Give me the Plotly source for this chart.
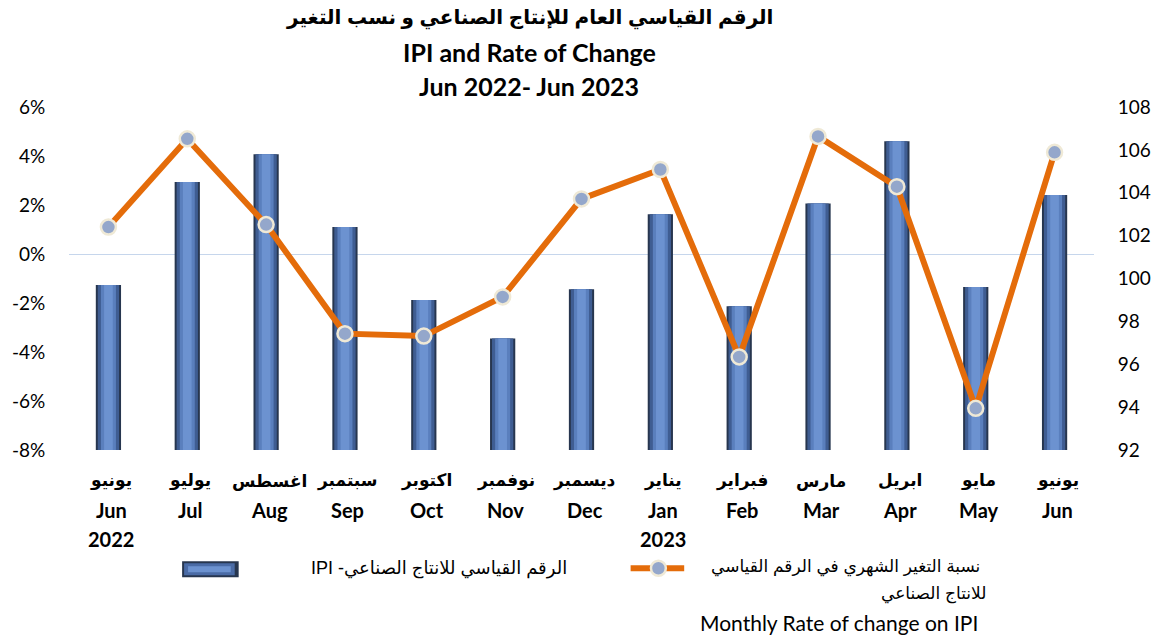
import plotly.graph_objects as go

# ---------------- data ----------------
months_ar = ["يونيو", "يوليو", "اغسطس", "سبتمبر", "اكتوبر", "نوفمبر", "ديسمبر",
             "يناير", "فبراير", "مارس", "ابريل", "مايو", "يونيو"]
months_en = ["Jun", "Jul", "Aug", "Sep", "Oct", "Nov", "Dec",
             "Jan", "Feb", "Mar", "Apr", "May", "Jun"]
years = ["2022", "", "", "", "", "", "", "2023", "", "", "", "", ""]

ipi = [99.7, 104.5, 105.8, 102.4, 99.0, 97.2, 99.5, 103.0, 98.7, 103.5, 106.4, 99.6, 103.9]
rate = [1.1, 4.7, 1.2, -3.25, -3.35, -1.75, 2.25, 3.45, -4.2, 4.8, 2.75, -6.3, 4.15]

left_ticks = [-8, -6, -4, -2, 0, 2, 4, 6]
left_ticktext = [f"{v}%" for v in left_ticks]
right_ticks = [92, 94, 96, 98, 100, 102, 104, 106, 108]

# ---------------- layout helpers ----------------
W, H = 1163, 642
L, R, T, B = 66, 1099, 106.7, 450.5


def px(x):
    return (x - L) / (R - L)


def py(y):
    return (B - y) / (B - T)


xcat = list(range(len(months_en)))

fig = go.Figure()

# bevelled bars: layered widths
bar_layers = [(0.32, "#27364f"), (0.27, "#3f5d92"), (0.19, "#5a7fbd"), (0.11, "#6c92d0")]
for w, c in bar_layers:
    fig.add_trace(go.Bar(
        x=xcat, y=ipi, width=w, marker=dict(color=c, line=dict(width=0)),
        yaxis="y", hoverinfo="skip", showlegend=False))

fig.add_trace(go.Scatter(
    x=xcat, y=rate, yaxis="y2", mode="lines+markers",
    line=dict(color="#e46c0a", width=6),
    marker=dict(size=15, color="#94a7cb", line=dict(color="#efe9d6", width=2.5)),
    showlegend=False))

ENG = "Lato, 'Open Sans', sans-serif"
AR = "Arial, 'DejaVu Sans', sans-serif"

fig.update_layout(
    width=W, height=H,
    margin=dict(l=L, r=W - R, t=T, b=H - B),
    paper_bgcolor="white", plot_bgcolor="white",
    barmode="overlay", showlegend=False,
    font=dict(family=ENG, color="black"),
    xaxis=dict(
        range=[-0.5, len(xcat) - 0.5], showticklabels=False,
        showgrid=False, showline=False, zeroline=False, ticks="",
    ),
    yaxis=dict(
        side="right", range=[92, 108], tickmode="array", tickvals=right_ticks,
        showgrid=False, zeroline=False, showline=False,
        ticks="outside", ticklen=19, tickcolor="rgba(0,0,0,0)",
        tickfont=dict(size=19, family=ENG, color="black"),
    ),
    yaxis2=dict(
        side="left", overlaying="y", range=[-8, 6], tickmode="array",
        tickvals=left_ticks, ticktext=left_ticktext,
        showgrid=False, zeroline=True,
        zerolinecolor="#c6d6ec", zerolinewidth=1.2, showline=False,
        ticks="outside", ticklen=19, tickcolor="rgba(0,0,0,0)",
        tickfont=dict(size=19, family=ENG, color="black"),
    ),
)

# category labels (three lines each)
for i in xcat:
    fig.add_annotation(text=f"<b>{months_ar[i]}</b>", xref="x", yref="paper",
                       x=i, y=py(482), xanchor="center", yanchor="middle",
                       xshift=3, showarrow=False,
                       font=dict(family=AR, size=17, color="black"))
    fig.add_annotation(text=f"<b>{months_en[i]}</b>", xref="x", yref="paper",
                       x=i, y=py(511), xanchor="center", yanchor="middle",
                       xshift=3, showarrow=False,
                       font=dict(family=ENG, size=20, color="black"))
    if years[i]:
        fig.add_annotation(text=f"<b>{years[i]}</b>", xref="x", yref="paper",
                           x=i, y=py(540), xanchor="center", yanchor="middle",
                           xshift=3, showarrow=False,
                           font=dict(family=ENG, size=20, color="black"))

# title
titles = [
    ("<b>الرقم القياسي العام للإنتاج الصناعي و نسب التغير</b>", 17, AR, 20),
    ("<b>IPI and Rate of Change</b>", 52, ENG, 25),
    ("<b>Jun 2022- Jun 2023</b>", 86, ENG, 25),
]
for text, yy, fam, size in titles:
    fig.add_annotation(text=text, xref="paper", yref="paper", x=px(530), y=py(yy),
                       xanchor="center", yanchor="middle", showarrow=False,
                       font=dict(family=fam, size=size, color="black"))

# legend: bars
fig.add_shape(type="rect", xref="paper", yref="paper",
              x0=px(180), x1=px(237), y0=py(578), y1=py(562),
              fillcolor="#27364f", line=dict(width=0))
fig.add_shape(type="rect", xref="paper", yref="paper",
              x0=px(182), x1=px(233), y0=py(576), y1=py(564),
              fillcolor="#4a6ba6", line=dict(width=0))
fig.add_shape(type="rect", xref="paper", yref="paper",
              x0=px(186), x1=px(229), y0=py(573), y1=py(567),
              fillcolor="#6c92d0", line=dict(width=0))
# visual order as in the RTL original: "IPI" at the left end
fig.add_annotation(text="IPI -الرقم القياسي للانتاج الصناعي", xref="paper", yref="paper",
                   x=px(308), y=py(569), xanchor="left", yanchor="middle",
                   showarrow=False, font=dict(family=AR, size=18, color="black"))

# legend: line
fig.add_shape(type="line", xref="paper", yref="paper",
              x0=px(632), x1=px(686), y0=py(569), y1=py(569),
              line=dict(color="#e46c0a", width=6))
fig.add_shape(type="circle", xref="paper", yref="paper",
              x0=px(652.5), x1=px(667.5), y0=py(576.5), y1=py(561.5),
              fillcolor="#94a7cb", line=dict(color="#efe9d6", width=2.5))
fig.add_annotation(text="نسبة التغير الشهري في الرقم القياسي", xref="paper", yref="paper",
                   x=px(986), y=py(568), xanchor="right", yanchor="middle",
                   showarrow=False, font=dict(family=AR, size=17, color="black"))
fig.add_annotation(text="للانتاج الصناعي", xref="paper", yref="paper",
                   x=px(992), y=py(595), xanchor="right", yanchor="middle",
                   showarrow=False, font=dict(family=AR, size=17, color="black"))
fig.add_annotation(text="Monthly Rate of change on IPI", xref="paper", yref="paper",
                   x=px(842), y=py(623), xanchor="center", yanchor="middle",
                   showarrow=False, font=dict(family=ENG, size=21, color="black"))

fig.write_html("out.html", config={"displayModeBar": False},
               post_script="document.body.style.margin='0px';")
